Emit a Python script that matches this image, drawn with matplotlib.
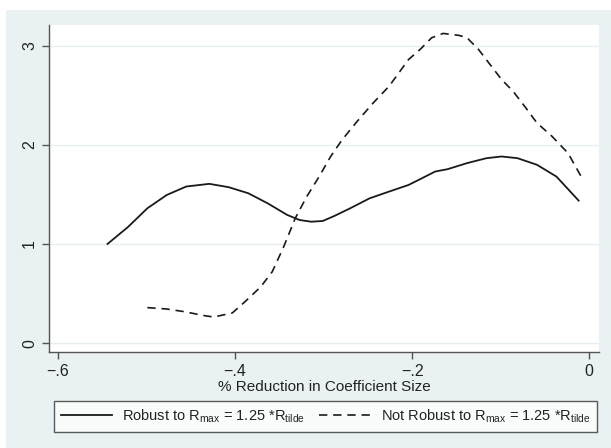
import matplotlib
matplotlib.use("Agg")
import matplotlib.pyplot as plt
from matplotlib.patches import Rectangle

plt.rcParams['font.family'] = ['Liberation Sans', 'DejaVu Sans']

# Robust series
robust_x = [-0.544, -0.521, -0.499, -0.477, -0.455, -0.429, -0.407, -0.385, -0.363, -0.341,
            -0.327, -0.314, -0.301, -0.288, -0.270, -0.248, -0.226, -0.204, -0.191, -0.174,
            -0.160, -0.138, -0.116, -0.099, -0.081, -0.059, -0.037, -0.012]
robust_y = [1.00, 1.17, 1.36, 1.495, 1.58, 1.607, 1.573, 1.512, 1.41, 1.293,
            1.242, 1.225, 1.232, 1.282, 1.36, 1.461, 1.529, 1.596, 1.654, 1.731,
            1.755, 1.816, 1.866, 1.883, 1.866, 1.799, 1.68, 1.438]

# Not robust series
notrob_x = [-0.499, -0.477, -0.455, -0.437, -0.424, -0.403, -0.389, -0.371, -0.358, -0.345,
            -0.332, -0.319, -0.305, -0.292, -0.279, -0.262, -0.244, -0.226, -0.204, -0.191,
            -0.178, -0.165, -0.147, -0.138, -0.125, -0.112, -0.099, -0.086, -0.073, -0.059,
            -0.042, -0.024, -0.007]
notrob_y = [0.358, 0.344, 0.314, 0.28, 0.263, 0.304, 0.415, 0.567, 0.719, 0.972,
            1.259, 1.478, 1.68, 1.883, 2.052, 2.238, 2.423, 2.592, 2.862, 2.963,
            3.081, 3.125, 3.105, 3.081, 2.963, 2.811, 2.66, 2.541, 2.39, 2.221,
            2.086, 1.917, 1.647]

xticks = [-0.6, -0.4, -0.2, 0.0]
xticklabels = ['\u2212.6', '\u2212.4', '\u2212.2', '0']
yticks = [0, 1, 2, 3]
yticklabels = ['0', '1', '2', '3']

W, H = 611, 448
fig = plt.figure(figsize=(W / 100, H / 100), dpi=100)
fig.patch.set_facecolor('white')
bg = Rectangle((6 / W, 0), 1 - 6 / W, 1 - 10 / H, transform=fig.transFigure,
               facecolor='#eaf1f3', edgecolor='none', zorder=-10)
fig.patches.append(bg)

ax = fig.add_axes([49 / W, 1 - 352 / H, 550 / W, 327 / H])
ax.set_facecolor('white')

ax.plot(robust_x, robust_y, color='#1a1a1a', lw=1.3, ls='-',
        label='Robust to R$_{\\mathregular{max}}$ = 1.25 *R$_{\\mathregular{tilde}}$')
ax.plot(notrob_x, notrob_y, color='#1a1a1a', lw=1.2, ls=(0, (5, 3.5)),
        label='Not Robust to R$_{\\mathregular{max}}$ = 1.25 *R$_{\\mathregular{tilde}}$')

ax.set_xlim(-0.61, 0.011)
ax.set_ylim(-0.09, 3.21)
ax.set_xticks(xticks)
ax.set_xticklabels(xticklabels)
ax.set_yticks(yticks)
ax.set_yticklabels(yticklabels, rotation=90, va='center')
ax.grid(axis='y', color='#e6eef0', lw=1.0)
ax.set_axisbelow(True)
for s in ['top', 'right']:
    ax.spines[s].set_visible(False)
for s in ['left', 'bottom']:
    ax.spines[s].set_color('#555555')
    ax.spines[s].set_linewidth(1.0)
ax.tick_params(axis='both', colors='#555555', labelcolor='#222222', length=5, width=1.0,
               labelsize=11.5)
ax.set_xlabel('% Reduction in Coefficient Size', fontsize=11, color='#222222', labelpad=1)

leg = fig.legend(loc='upper left', bbox_to_anchor=(54 / W, 1 - 401 / H),
                 ncol=2, fontsize=10.5, frameon=True, fancybox=False,
                 edgecolor='#333333', handlelength=3.5, handletextpad=0.7, columnspacing=1.0,
                 borderaxespad=0, borderpad=0.45)
leg.get_frame().set_linewidth(1.0)
for t in leg.get_texts():
    t.set_color('#222222')

fig.savefig('out.png', dpi=100, facecolor='white')
